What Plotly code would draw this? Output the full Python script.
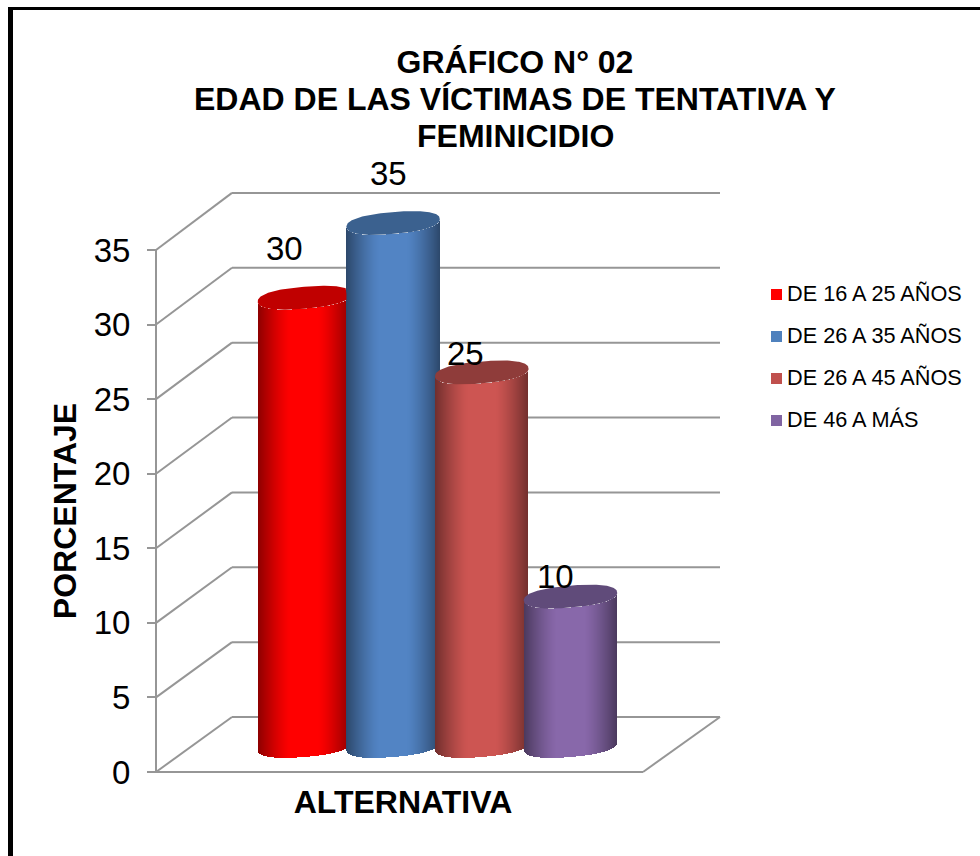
import numpy as np
import plotly.graph_objects as go

# ---------- data ----------
SERIES = ["DE 16 A 25 AÑOS", "DE 26 A 35 AÑOS", "DE 26 A 45 AÑOS", "DE 46 A MÁS"]
VALUES = [30, 35, 25, 10]
TICKS = [0, 5, 10, 15, 20, 25, 30, 35]
TITLE_LINES = ["GRÁFICO N° 02", "EDAD DE LAS VÍCTIMAS DE TENTATIVA Y", "FEMINICIDIO"]
X_TITLE = "ALTERNATIVA"
Y_TITLE = "PORCENTAJE"

# ---------- styles ----------
LEGEND_COLORS = ["#FF0000", "#4F81BD", "#C0504D", "#8064A2"]
SIDE_COLORS = [(255, 0, 0), (82, 132, 196), (205, 85, 82), (136, 104, 170)]
CAP_COLORS = ["#C00000", "#3B618F", "#8F3C3A", "#604B7A"]
GRID = "#969696"
FONT = "Liberation Sans, Arial, sans-serif"
W, H = 980, 856

# ---------- geometry (pixels) ----------
AX_L, Y0_PX, Y35_PX = 156, 772, 250
DOM_L, DOM_R = 0, 806       # plot area, centred on the x title
DOM_T, DOM_B = 166, 856     # plot area, centred on the y title
FLOOR_R = 643
DEPTH_X, DEPTH_Y = 76, 55
C0, STEP = 304.4, 88.7      # first cylinder centre and spacing
HALF = 46.7                 # cylinder half width
ELL_H, ELL_TILT = 11.0, 3.8 # ellipse half height, tilt
ELL_P = 0.85                # below 1: ends of the ellipse are fuller
BAR_DEPTH = 0.473           # cylinders stand this far back on the floor
PX_PER = (Y0_PX - Y35_PX) / 35.0
LABEL_SHIFT = [(-20, 49), (-5, 50), (-16, 19), (-15, 20)]

def ux(px):
    return (px - C0) / STEP

def vy(py):
    return (Y0_PX - py) / PX_PER

def depth_v(v, d):
    """value coordinate of value v seen at floor depth d (0 front, 1 back)"""
    return v * (1 + 0.004 * d) + DEPTH_Y / PX_PER * d

def px_paper_x(px):
    return px / W

def px_paper_y(py):
    return 1 - py / H

fig = go.Figure()
shapes = []

def seg(x0, y0, x1, y1):
    shapes.append(dict(type="line", xref="x", yref="y", layer="below",
                       x0=x0, y0=y0, x1=x1, y1=y1,
                       line=dict(color=GRID, width=2)))

# walls
for t in TICKS:
    seg(ux(AX_L), t, ux(AX_L + DEPTH_X), depth_v(t, 1))
    seg(ux(AX_L + DEPTH_X), depth_v(t, 1), ux(720), depth_v(t, 1))
seg(ux(AX_L), 0, ux(AX_L), TICKS[-1])
seg(ux(AX_L), 0, ux(FLOOR_R), 0)
seg(ux(FLOOR_R), 0, ux(FLOOR_R + 77), depth_v(0, 1))

# cylinders
for i, (name, v) in enumerate(zip(SERIES, VALUES)):
    cx = C0 + STEP * i
    pxs = np.arange(np.floor(cx - HALF), np.ceil(cx + HALF)) + 0.5
    pxs = pxs[np.abs(pxs - cx) <= HALF]
    u = (pxs - cx) / HALF
    chord = ELL_H * np.clip(1 - np.abs(u) ** (2 / ELL_P), 0, 1) ** (ELL_P / 2) / PX_PER
    tilt = ELL_TILT * u / PX_PER
    base0 = depth_v(0, BAR_DEPTH)
    top0 = depth_v(v, BAR_DEPTH)
    lows = base0 + tilt - chord
    tops = top0 + tilt - chord
    shade = 1 - 0.45 * (np.clip(np.abs(u) - 0.3, 0, None) / 0.7) ** 1.3
    side = SIDE_COLORS[i]
    cols = [f"rgb({int(side[0]*s)},{int(side[1]*s)},{int(side[2]*s)})" for s in shade]
    fig.add_trace(go.Bar(
        x=ux(pxs), y=tops - lows, base=lows, width=1.0 / STEP,
        marker=dict(color=cols, line=dict(width=0)),
        name=name, showlegend=False, cliponaxis=False,
        hovertemplate=f"{name}: {v}<extra></extra>"))
    # cap, trimmed where the next (taller) cylinder stands in front
    t = np.linspace(0, 2 * np.pi, 181)
    cu = np.sign(np.cos(t)) * np.abs(np.cos(t)) ** ELL_P
    su = np.sign(np.sin(t)) * np.abs(np.sin(t)) ** ELL_P
    ex = cx + HALF * cu
    ey = top0 + (ELL_H * su + ELL_TILT * cu) / PX_PER
    if i + 1 < len(VALUES) and VALUES[i + 1] > v:
        limit = C0 + STEP * (i + 1) - HALF
        ex = np.minimum(ex, limit)
    fig.add_trace(go.Scatter(
        x=ux(ex), y=ey, mode="lines", fill="toself",
        fillcolor=CAP_COLORS[i], line=dict(width=0),
        showlegend=False, hoverinfo="skip", cliponaxis=False))

# value labels
annotations = [
    dict(x=i, y=depth_v(v, BAR_DEPTH), xref="x", yref="y", text=str(v), showarrow=False,
         xshift=LABEL_SHIFT[i][0], yshift=LABEL_SHIFT[i][1],
         font=dict(family=FONT, size=33, color="#000000"))
    for i, v in enumerate(VALUES)
]
# second and third title lines (tighter leading than a <br> allows)
for line, py in zip(TITLE_LINES[1:], [99, 136]):
    annotations.append(dict(x=515 / W, y=px_paper_y(py), xref="paper", yref="paper",
                            text=f"<b>{line}</b>", showarrow=False,
                            xanchor="center", yanchor="middle",
                            font=dict(family=FONT, size=32, color="#000000")))

# legend
LEG_X = 776.5
LEG_Y0, LEG_DY = 294.5, 42.0
for i, name in enumerate(SERIES):
    py = LEG_Y0 + LEG_DY * i
    fig.add_trace(go.Scatter(
        x=[ux(LEG_X)], y=[vy(py)], mode="markers",
        marker=dict(symbol="square", size=11, color=LEGEND_COLORS[i]),
        name=name, showlegend=False, hoverinfo="skip", cliponaxis=False))
    annotations.append(dict(x=ux(LEG_X), y=vy(py), xref="x", yref="y",
                            text=name, showarrow=False, xanchor="left", yanchor="middle",
                            xshift=8.5, yshift=1,
                            font=dict(family=FONT, size=21.7, color="#000000")))

# frame
shapes.append(dict(type="rect", xref="paper", yref="paper", layer="below",
                   x0=px_paper_x(8), x1=px_paper_x(13), y0=0, y1=px_paper_y(7),
                   fillcolor="#000000", line=dict(width=0)))
shapes.append(dict(type="rect", xref="paper", yref="paper", layer="below",
                   x0=px_paper_x(8), x1=1, y0=px_paper_y(10), y1=px_paper_y(7),
                   fillcolor="#000000", line=dict(width=0)))

fig.update_layout(
    width=W, height=H, autosize=False,
    template=None,
    margin=dict(l=0, r=0, t=0, b=0, autoexpand=False),
    paper_bgcolor="#FFFFFF", plot_bgcolor="rgba(0,0,0,0)",
    barmode="overlay", bargap=0, showlegend=False,
    font=dict(family=FONT, color="#000000"),
    title=dict(text=f"<b>{TITLE_LINES[0]}</b>",
               x=515 / W, xanchor="center", y=px_paper_y(62), yanchor="middle",
               font=dict(family=FONT, size=32, color="#000000")),
    xaxis=dict(domain=[px_paper_x(DOM_L), px_paper_x(DOM_R)],
               range=[ux(DOM_L), ux(DOM_R)], showgrid=False, zeroline=False,
               automargin=False, anchor="free", position=px_paper_y(Y0_PX),
               showticklabels=False, ticks="", showline=False,
               title=dict(text=f"<b>{X_TITLE}</b>", standoff=18,
                          font=dict(family=FONT, size=32))),
    yaxis=dict(domain=[px_paper_y(DOM_B), px_paper_y(DOM_T)],
               range=[vy(DOM_B), vy(DOM_T)], tickvals=TICKS, showgrid=False, zeroline=False,
               automargin=False, anchor="free", position=px_paper_x(AX_L),
               showline=False,
               ticks="outside", ticklen=9, tickwidth=2, tickcolor=GRID,
               ticklabelstandoff=10,
               tickfont=dict(family=FONT, size=33, color="#000000"),
               title=dict(text=f"<b>{Y_TITLE}</b>", standoff=6,
                          font=dict(family=FONT, size=32))),
    shapes=shapes, annotations=annotations,
)

fig.write_html("out.html", config=dict(displayModeBar=False),
               post_script="document.body.style.margin='0';document.body.style.overflow='hidden';")
